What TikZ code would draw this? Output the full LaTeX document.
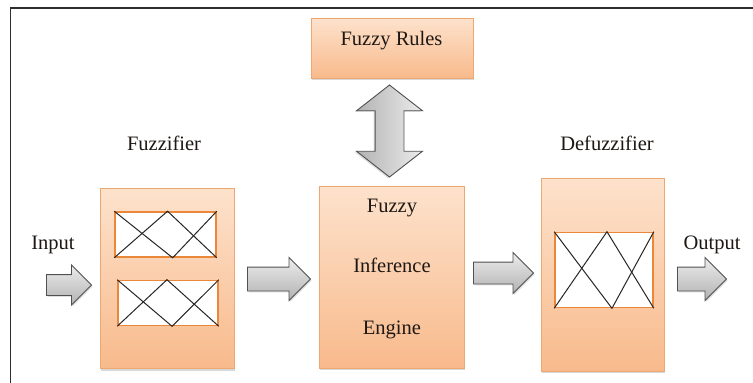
\documentclass[tikz,border=0pt]{standalone}
\usepackage{fontspec}
\setmainfont{Liberation Serif}
\usetikzlibrary{shapes.arrows,shadows,calc}

\definecolor{peachtop}{RGB}{253,226,204}
\definecolor{peachbot}{RGB}{248,186,140}
\definecolor{peachline}{RGB}{236,168,112}
\definecolor{memline}{RGB}{233,135,58}
\definecolor{arrowline}{RGB}{80,80,80}
\definecolor{arrowlight}{RGB}{236,236,236}
\definecolor{arrowdark}{RGB}{178,178,178}
\definecolor{inktext}{RGB}{30,24,20}
\definecolor{framecol}{RGB}{45,45,45}

\begin{document}
\begin{tikzpicture}[x=1pt,y=-1pt,
  blockbox/.style={rectangle, draw=peachline, line width=0.6pt,
    top color=peachtop, bottom color=peachbot, inner sep=0pt,
    drop shadow={shadow xshift=1.2pt, shadow yshift=-2pt, opacity=0.3}},
  membox/.style={rectangle, draw=memline, line width=1.6pt, fill=white, inner sep=0pt},
  memline/.style={draw=black!85, line width=1pt},
  lbl/.style={font=\fontsize{20.5}{24}\selectfont, text=inktext, inner sep=0pt, anchor=base},
  % #1 = half shaft width, head extends 9.5pt beyond the shaft
  rarrow/.style={single arrow, draw=arrowline, line width=0.9pt,
    top color=arrowlight, bottom color=arrowdark,
    inner xsep=0pt, inner ysep=#1,
    single arrow head extend=9.5pt, anchor=tail,
    drop shadow={shadow xshift=1.2pt, shadow yshift=-1.5pt, opacity=0.25}}
]
% canvas and frame
\useasboundingbox (0,0) rectangle (753,383);
\fill[white] (0,0) rectangle (753,383);
\draw[framecol, line width=1.3pt] (10.5,383) -- (10.5,8) -- (753,8);

% main blocks
\node[blockbox, minimum width=162pt, minimum height=60pt] (rules) at (392,48) {};
\node[blockbox, minimum width=134pt, minimum height=180pt] (fuzz) at (167,278.5) {};
\node[blockbox, minimum width=145pt, minimum height=182pt] (infer) at (391.5,277) {};
\node[blockbox, minimum width=123pt, minimum height=193pt] (defuzz) at (602.5,274.5) {};

% texts
\node[lbl] (rulestxt) at (391.5,45) {Fuzzy Rules};
\node[lbl] (fuzztxt) at (164,150) {Fuzzifier};
\node[lbl] (defuzztxt) at (607,150) {Defuzzifier};
\node[lbl] (intxt) at (53,249) {Input};
\node[lbl] (outtxt) at (712,249) {Output};
\node[lbl] (inf1) at (392,212) {Fuzzy};
\node[lbl] (inf2) at (392,272) {Inference};
\node[lbl] (inf3) at (392,334) {Engine};

% membership function panels
\node[membox, minimum width=101pt, minimum height=45pt] (m1) at (165.5,234.5) {};
\node[membox, minimum width=100pt, minimum height=45pt] (m2) at (168,303) {};
\node[membox, minimum width=98pt, minimum height=75pt] (m3) at (604,270) {};

\foreach \m/\t/\b in {m1/0.52/0.57, m2/0.49/0.54, m3/0.53/0.58}{
  \coordinate (\m top) at ($(\m.north west)!\t!(\m.north east)$);
  \coordinate (\m bot) at ($(\m.south west)!\b!(\m.south east)$);
  \draw[memline] (\m.north west) -- (\m bot) -- (\m.north east);
  \draw[memline] (\m.south west) -- (\m top) -- (\m.south east);
}

% block arrows
\node[rarrow=10pt, minimum height=45pt] (inarr) at (46,285) {};
\node[rarrow=11.5pt, minimum height=63pt] (arr2) at (247,279) {};
\node[rarrow=10.5pt, minimum height=60pt] (arr3) at (473,273) {};
\node[rarrow=11.5pt, minimum height=49pt] (outarr) at (677,279) {};

\node[double arrow, rotate=90, draw=arrowline, line width=0.9pt,
  right color=arrowlight, left color=arrowdark,
  inner xsep=0pt, inner ysep=14pt,
  minimum height=92pt,
  double arrow head extend=18.5pt, double arrow tip angle=104,
  drop shadow={shadow xshift=-1.5pt, shadow yshift=-1.2pt, opacity=0.25}]
  (link) at (389.5,131) {};
\end{tikzpicture}
\end{document}
